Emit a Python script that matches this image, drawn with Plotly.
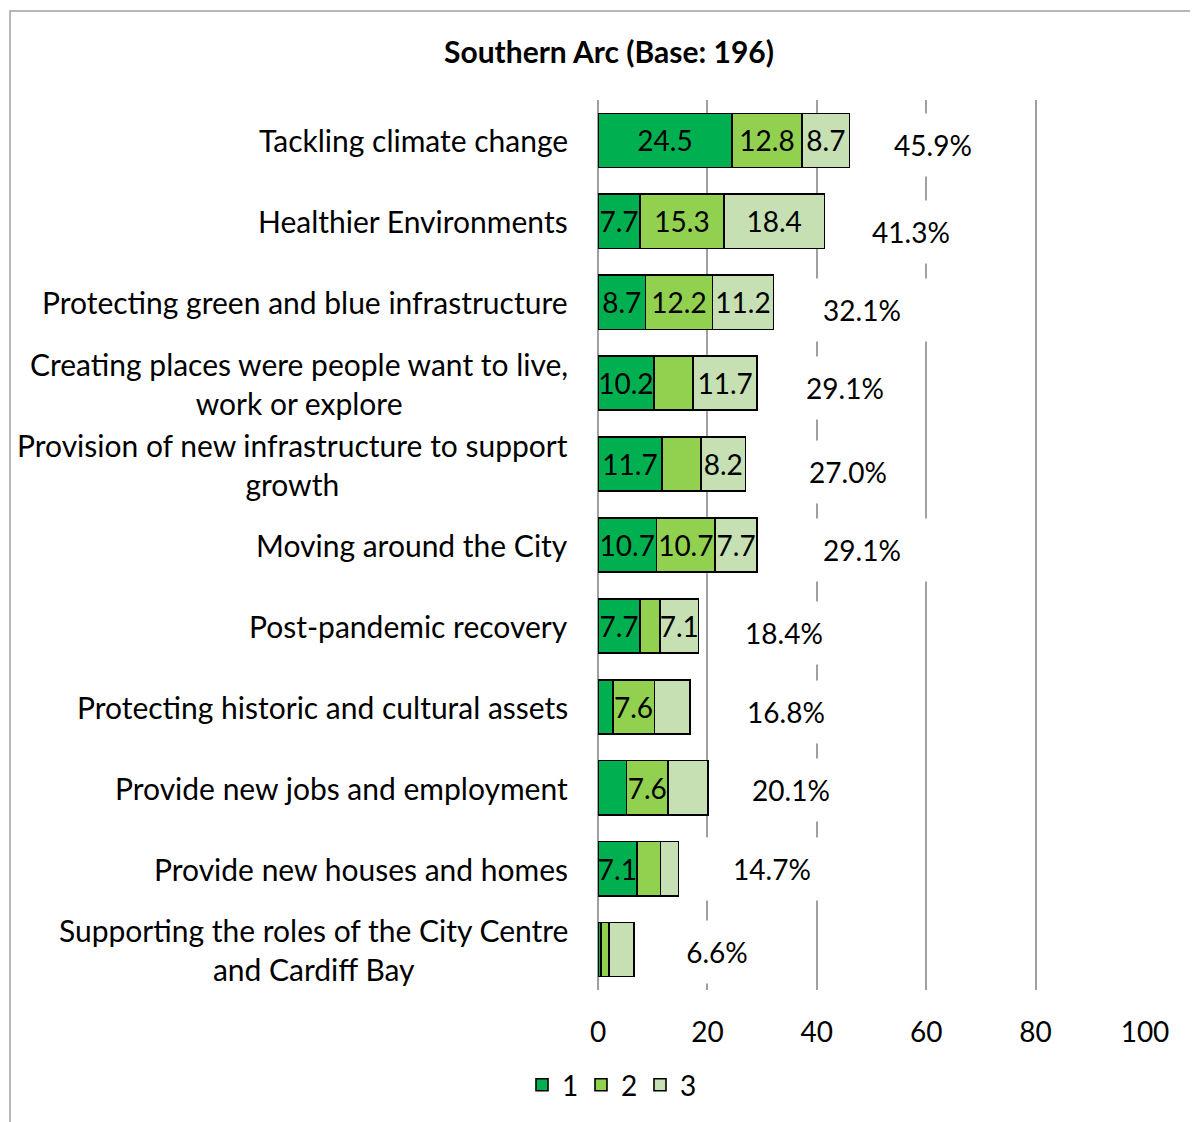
import plotly.graph_objects as go

categories = [
    "Tackling climate change",
    "Healthier Environments",
    "Protecting green and blue infrastructure",
    "Creating places were people want to live,<br>work or explore",
    "Provision of new infrastructure to support<br>growth",
    "Moving around the City",
    "Post-pandemic recovery",
    "Protecting historic and cultural assets",
    "Provide new jobs and employment",
    "Provide new houses and homes",
    "Supporting the roles of the City Centre<br>and Cardiff Bay",
]
rank1 = [24.5, 7.7, 8.7, 10.2, 11.7, 10.7, 7.7, 2.7, 5.2, 7.1, 0.5]
rank2 = [12.8, 15.3, 12.2, 7.2, 7.1, 10.7, 3.6, 7.6, 7.6, 4.3, 1.5]
rank3 = [8.7, 18.4, 11.2, 11.7, 8.2, 7.7, 7.1, 6.5, 7.3, 3.3, 4.6]
totals = [45.9, 41.3, 32.1, 29.1, 27.0, 29.1, 18.4, 16.8, 20.1, 14.7, 6.6]
# which segment labels are shown in the original
label1 = ["24.5", "7.7", "8.7", "10.2", "11.7", "10.7", "7.7", "", "", "7.1", ""]
label2 = ["12.8", "15.3", "12.2", "", "", "10.7", "", "7.6", "7.6", "", ""]
label3 = ["8.7", "18.4", "11.2", "11.7", "8.2", "7.7", "7.1", "", "", "", ""]
series_names = ["1", "2", "3"]
x_ticks = [0, 20, 40, 60, 80, 100]

# styling: manual nudges of the total labels (pixels), as placed in the original
label_dx = [84, 87, 88, 88, 102, 105, 85, 96, 83, 94, 83]
label_dy = [5, 11, 8, 5, 8, 5, 7, 5, 2, 0, 2]

FONT = "Lato, 'Open Sans', sans-serif"
colors = ["#00B050", "#92D050", "#C6E0B4"]

# page offset (browser body margin)
OFF = 8
W, H = 1198 - OFF, 1122 - OFF
PL, PR, PT, PB = 598, 1145, 100, 990  # plot area in page pixels
ML, MR, MT, MB = PL - OFF, OFF + W - PR, PT - OFF, OFF + H - PB
PW, PH = PR - PL, PB - PT

fig = go.Figure()
for name, vals, labs, col in zip(series_names, [rank1, rank2, rank3],
                                 [label1, label2, label3], colors):
    fig.add_trace(go.Bar(
        y=categories, x=vals, name=name, orientation="h",
        marker=dict(color=col, line=dict(color="black", width=1.6)),
        text=labs, textposition="inside", insidetextanchor="middle",
        textangle=0, constraintext="none", cliponaxis=False,
        textfont=dict(family=FONT, size=28, color="black"),
        hoverinfo="skip",
    ))

BOXW = 130
annotations = []
for cat, tot, dx, dy in zip(categories, totals, label_dx, label_dy):
    annotations.append(dict(
        x=tot, y=cat, xref="x", yref="y", text=f"{tot:.1f}%",
        showarrow=False, xanchor="center", yanchor="middle",
        width=BOXW, height=60, bgcolor="white", align="center",
        xshift=dx, yshift=-dy, font=dict(family=FONT, size=28, color="black"),
    ))
    annotations.append(dict(
        x=0, y=cat, xref="paper", yref="y", text=cat,
        showarrow=False, xanchor="right", yanchor="middle",
        align="center", xshift=-28,
        font=dict(family=FONT, size=30, color="black"),
    ))

fig.update_layout(
    width=W, height=H,
    margin=dict(l=ML, r=MR, t=MT, b=MB, pad=0),
    paper_bgcolor="white", plot_bgcolor="white",
    barmode="stack", bargap=0.33,
    title=dict(text="<b>Southern Arc (Base: 196)</b>", x=(609 - OFF) / W, xref="container",
               y=1 - (52 - OFF) / H, yref="container", yanchor="middle", xanchor="center",
               font=dict(family=FONT, size=30, color="black")),
    xaxis=dict(range=[0, 100], tickvals=x_ticks, showgrid=True, gridcolor="#A0A0A0",
               gridwidth=2, zeroline=True, zerolinecolor="#A0A0A0", zerolinewidth=2,
               showline=False, ticks="", ticklabelstandoff=23,
               tickfont=dict(family=FONT, size=28, color="black")),
    yaxis=dict(autorange="reversed", showticklabels=False, showgrid=False,
               zeroline=False, showline=False, ticks=""),
    legend=dict(orientation="h", x=(522 - PL) / PW, xanchor="left",
                y=(PB - 1085) / PH, yanchor="middle",
                font=dict(family=FONT, size=28, color="black"), traceorder="normal",
                itemwidth=30, entrywidth=14),
    annotations=annotations,
    shapes=[dict(type="rect", xref="paper", yref="paper",
                 x0=(10 - PL) / PW, x1=1.3, y0=-0.3, y1=(PB - 11) / PH,
                 line=dict(color="#A0A0A0", width=1.5), fillcolor="rgba(0,0,0,0)",
                 layer="below")],
    showlegend=True,
)

fig.write_html("out.html")
